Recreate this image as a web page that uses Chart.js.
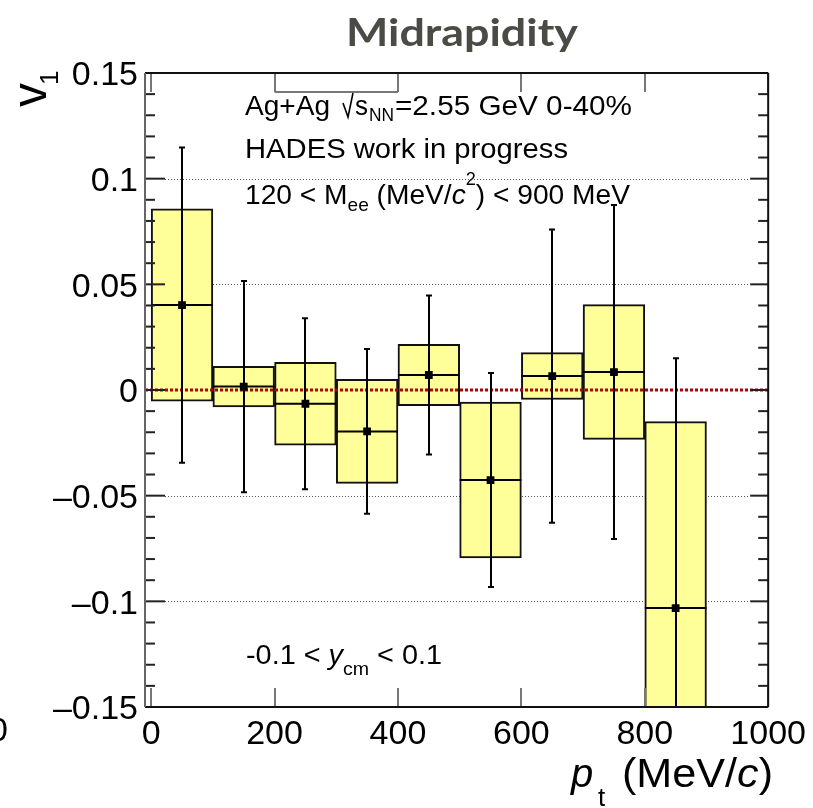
<!DOCTYPE html>
<html>
<head>
<meta charset="utf-8">
<title>Midrapidity v1 vs pt</title>
<script src="https://cdn.jsdelivr.net/npm/chart.js@4/dist/chart.umd.min.js"></script>
<style>
  html, body { margin: 0; padding: 0; background: #ffffff; }
  #wrap { width: 813px; height: 808px; position: relative; }
</style>
</head>
<body>
<div id="wrap"><canvas id="c" width="813" height="808"></canvas></div>
<script>
// pt bins (MeV/c)
const binEdges   = [0, 100, 200, 300, 400, 500, 600, 700, 800, 900];
const binCenters = [50, 150, 250, 350, 450, 550, 650, 750, 850];

// v1 per bin, statistical and systematic uncertainties
const v1      = [0.0402, 0.0016, -0.0065, -0.0196, 0.0071, -0.0426, 0.0066, 0.0085, -0.1032];
const statErr = [0.0746, 0.0500, 0.0405, 0.0390, 0.0376, 0.0506, 0.0694, 0.0790, 0.1182];
const sysErr  = [0.0455, 0.0096, 0.0196, 0.0246, 0.0145, 0.0369, 0.0111, 0.0319, 0.0882];

// axes
const xRange      = [-10, 1000];
const yRange      = [-0.15, 0.15];
const xTickValues = [0, 200, 400, 600, 800, 1000];
const yTickValues = [-0.15, -0.1, -0.05, 0, 0.05, 0.1, 0.15];
const yTickLabels = ['\u20130.15', '\u20130.1', '\u20130.05', '0', '0.05', '0.1', '0.15'];
const yMinorStep  = 0.01;

const SANS = '"Liberation Sans", Arial, Helvetica, sans-serif';

const sysBoxes = binCenters.map((c, i) => ({ x: c, y: [v1[i] - sysErr[i], v1[i] + sysErr[i]] }));
const points   = binCenters.map((c, i) => ({ x: c, y: v1[i] }));
const zeroLine = [{ x: xRange[0], y: 0 }, { x: xRange[1], y: 0 }];

function seg(ctx, x1, y1, x2, y2) {
  ctx.beginPath(); ctx.moveTo(x1, y1); ctx.lineTo(x2, y2); ctx.stroke();
}

// single text run, optionally fitted to a width
function txt(ctx, s, x, y, font, opts) {
  opts = opts || {};
  ctx.save();
  ctx.font = font;
  ctx.fillStyle = opts.color || '#000';
  ctx.textAlign = 'left';
  ctx.textBaseline = 'alphabetic';
  const w = ctx.measureText(s).width;
  const sx = opts.width ? opts.width / w : 1;
  ctx.translate(x, y);
  ctx.scale(sx, 1);
  ctx.fillText(s, 0, 0);
  ctx.restore();
}

// a line of mixed runs (sub/superscripts, italics) fitted to a total width
function runs(ctx, parts, x, y, totalWidth) {
  ctx.save();
  ctx.fillStyle = '#000';
  ctx.textAlign = 'left';
  ctx.textBaseline = 'alphabetic';
  let natural = 0;
  parts.forEach(p => { ctx.font = p.font; p.w = ctx.measureText(p.t).width; natural += p.w; });
  const sx = totalWidth ? totalWidth / natural : 1;
  ctx.translate(x, y);
  ctx.scale(sx, 1);
  let cx = 0;
  parts.forEach(p => { ctx.font = p.font; ctx.fillText(p.t, cx, p.dy || 0); cx += p.w; });
  ctx.restore();
}

const framePlugin = {
  id: 'framePlugin',
  beforeDatasetsDraw(chart) {
    const { ctx, chartArea: a, scales: { y } } = chart;
    ctx.save();
    ctx.strokeStyle = '#555';
    ctx.lineWidth = 1;
    ctx.setLineDash([1, 2]);
    yTickValues.forEach(v => {
      if (v === 0 || Math.abs(Math.abs(v) - 0.15) < 1e-9) return;
      const py = Math.round(y.getPixelForValue(v)) + 0.5;
      seg(ctx, a.left + 20, py, a.right - 18, py);
    });
    ctx.restore();
  },
  afterDatasetsDraw(chart) {
    const { ctx, chartArea: a, scales: { x, y } } = chart;
    ctx.save();
    ctx.beginPath();
    ctx.rect(a.left, a.top, a.right - a.left, a.bottom - a.top);
    ctx.clip();
    ctx.strokeStyle = '#000';
    ctx.lineWidth = 2;
    binCenters.forEach((c, i) => {
      const px = Math.round(x.getPixelForValue(c));
      const yHi = y.getPixelForValue(v1[i] + statErr[i]);
      const yLo = y.getPixelForValue(v1[i] - statErr[i]);
      const py = y.getPixelForValue(v1[i]);
      seg(ctx, px, yHi, px, yLo);
      seg(ctx, px - 3, yHi, px + 3, yHi);
      seg(ctx, px - 3, yLo, px + 3, yLo);
      seg(ctx, x.getPixelForValue(binEdges[i]), py, x.getPixelForValue(binEdges[i + 1]), py);
    });
    ctx.restore();
  },
  afterDraw(chart) {
    const { ctx, chartArea: a, scales: { x, y } } = chart;
    ctx.save();

    // y ticks (inside, both sides)
    ctx.strokeStyle = '#222';
    ctx.lineWidth = 2;
    const nMinor = Math.round((yRange[1] - yRange[0]) / yMinorStep);
    for (let i = 0; i <= nMinor; i++) {
      const v = yRange[0] + i * yMinorStep;
      const major = i % 5 === 0;
      const py = y.getPixelForValue(v);
      seg(ctx, a.left, py, a.left + (major ? 20 : 10), py);
      seg(ctx, a.right, py, a.right - (major ? 18 : 10), py);
    }

    // x ticks (inside, top and bottom)
    ctx.strokeStyle = '#777';
    xTickValues.forEach(v => {
      const px = Math.round(x.getPixelForValue(v));
      seg(ctx, px, a.top, px, a.top + 19);
      seg(ctx, px, a.bottom, px, a.bottom - 19);
    });
    seg(ctx, x.getPixelForValue(200), a.top + 19, x.getPixelForValue(400), a.top + 19);

    // frame
    ctx.strokeStyle = '#111';
    ctx.lineWidth = 2;
    seg(ctx, a.left, a.top, a.right, a.top);
    seg(ctx, a.right, a.top, a.right, a.bottom);
    seg(ctx, a.left, a.bottom, a.right, a.bottom);
    ctx.strokeStyle = '#666';
    seg(ctx, a.left, a.top, a.left, a.bottom);

    // title
    txt(ctx, 'Midrapidity', 346, 46, 'bold 38px Lato', { width: 232, color: '#4b4b46' });

    // y axis title: v_1
    ctx.save();
    ctx.translate(46, 107);
    ctx.rotate(-Math.PI / 2);
    txt(ctx, 'v', 0, 0, '48px ' + SANS);
    txt(ctx, '1', 22, 12, '26px ' + SANS);
    ctx.restore();

    // x axis title: p_t (MeV/c)
    const XF = '40px ' + SANS;
    txt(ctx, 'p', 571, 787, 'italic ' + XF);
    txt(ctx, 't', 598, 806, '26px ' + SANS);
    runs(ctx, [
      { t: '(MeV/', font: XF },
      { t: 'c', font: 'italic ' + XF },
      { t: ')', font: XF }
    ], 622, 787, 151);

    // annotations
    const F = '28px ' + SANS;
    txt(ctx, 'Ag+Ag', 245, 115, F, { width: 85 });
    ctx.strokeStyle = '#000';
    ctx.lineWidth = 1.6;
    ctx.beginPath();
    ctx.moveTo(343, 103); ctx.lineTo(348, 117); ctx.lineTo(353, 93);
    ctx.stroke();
    txt(ctx, 's', 355, 115, F, { width: 13 });
    txt(ctx, 'NN', 369, 121, '18px ' + SANS, { width: 25 });
    txt(ctx, '=2.55 GeV 0-40%', 395, 115, F, { width: 237 });

    runs(ctx, [{ t: 'HADES work in progress', font: F }], 245, 158, 323);

    runs(ctx, [
      { t: '120 < M', font: F },
      { t: 'ee', font: '19px ' + SANS, dy: 7 },
      { t: ' (MeV/', font: F },
      { t: 'c', font: 'italic ' + F },
      { t: '2', font: '18px ' + SANS, dy: -19 },
      { t: ') < 900 MeV', font: F }
    ], 245, 204, 385);

    runs(ctx, [
      { t: '-0.1 < ', font: F },
      { t: 'y', font: 'italic ' + F },
      { t: 'cm', font: '19px ' + SANS, dy: 11 },
      { t: ' < 0.1', font: F }
    ], 246, 664, 196);

    // neighbouring axis label at the left edge
    txt(ctx, '0', -11, 741, '34px ' + SANS);

    ctx.restore();
  }
};

new Chart(document.getElementById('c'), {
  type: 'bar',
  data: {
    datasets: [
      {
        type: 'scatter',
        data: points,
        pointStyle: 'rect',
        pointRadius: 5.5,
        backgroundColor: '#000',
        borderColor: '#000',
        borderWidth: 0,
        order: 1
      },
      {
        type: 'line',
        data: zeroLine,
        borderColor: '#b30000',
        borderWidth: 3,
        borderDash: [3, 2],
        pointRadius: 0,
        fill: false,
        order: 2
      },
      {
        type: 'bar',
        data: sysBoxes,
        backgroundColor: '#ffff99',
        borderColor: '#111',
        borderWidth: 2,
        borderSkipped: false,
        barPercentage: 1,
        categoryPercentage: 1,
        clip: 0,
        order: 3
      }
    ]
  },
  options: {
    responsive: false,
    animation: false,
    devicePixelRatio: 1,
    events: [],
    layout: { padding: { top: 73, right: 40, bottom: 0, left: 0 } },
    plugins: { legend: { display: false }, tooltip: { enabled: false }, title: { display: false } },
    scales: {
      x: {
        type: 'linear',
        min: xRange[0],
        max: xRange[1],
        offset: false,
        grid: { display: false, drawTicks: false },
        border: { display: false },
        afterBuildTicks(scale) { scale.ticks = xTickValues.map(v => ({ value: v })); },
        afterFit(scale) { scale.height = 101; },
        ticks: {
          autoSkip: false,
          maxRotation: 0,
          padding: 7,
          color: '#000',
          font: { family: SANS, size: 34 },
          callback: v => String(v)
        }
      },
      y: {
        type: 'linear',
        min: yRange[0],
        max: yRange[1],
        grid: { display: false, drawTicks: false },
        border: { display: false },
        afterBuildTicks(scale) { scale.ticks = yTickValues.map(v => ({ value: v })); },
        afterFit(scale) { scale.width = 145; },
        ticks: {
          autoSkip: false,
          padding: 7,
          labelOffset: 3,
          color: '#000',
          font: { family: SANS, size: 34 },
          callback: v => {
            const i = yTickValues.findIndex(t => Math.abs(t - v) < 1e-9);
            return i >= 0 ? yTickLabels[i] : '';
          }
        }
      }
    }
  },
  plugins: [framePlugin]
});
</script>
</body>
</html>
